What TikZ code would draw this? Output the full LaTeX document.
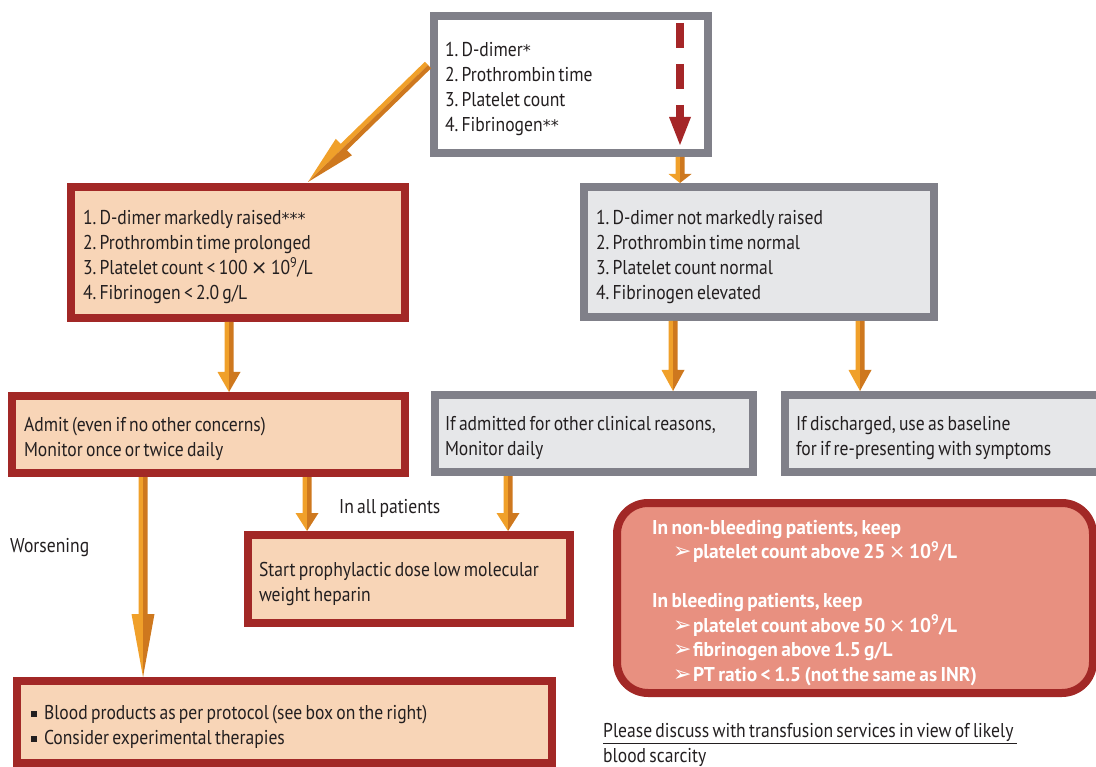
\documentclass[tikz,border=0pt]{standalone}
\usepackage{fontspec}
\setmainfont{PT Sans}[FakeStretch=0.88, WordSpace=0.7, BoldFeatures={FakeStretch=0.97}]
\newfontfamily\symf{DejaVu Sans}
\usetikzlibrary{calc}
\frenchspacing
\definecolor{gborder}{RGB}{128,128,137}
\definecolor{gfill}{RGB}{230,231,233}
\definecolor{rborder}{RGB}{162,40,38}
\definecolor{pfill}{RGB}{248,213,183}
\definecolor{sfill}{RGB}{232,144,128}
\definecolor{olight}{RGB}{240,160,42}
\definecolor{odark}{RGB}{206,120,30}
\definecolor{dred}{RGB}{165,38,40}
\definecolor{txt}{RGB}{35,31,32}

\newcommand\myast[1]{{\symf\mdseries\fontsize{16}{16}\selectfont #1}}
\newcommand\mytms{{\symf\mdseries ×}}
\newcommand\myarr{\hspace*{21pt}\makebox[20pt][l]{\symf\mdseries\fontsize{22}{22}\selectfont ➢}}

% orange two-tone arrow: [head length]{start}{end}
\newcommand\oarr[3][20]{%
  \path let \p1=#2, \p2=#3 in \pgfextra{%
    \pgfmathsetmacro\tmpa{veclen(\x2-\x1,\y2-\y1)}\xdef\arrlen{\tmpa}%
    \pgfmathsetmacro\tmpb{atan2(\y2-\y1,\x2-\x1)}\xdef\arrang{\tmpb}};
  \begin{scope}[shift={#2}, rotate=\arrang, x=1pt, y=1pt]
    \fill[olight] (0,0) -- (0,-4.5) -- (\arrlen-#1,-4.5) -- (\arrlen-#1,-11.5) -- (\arrlen,0) -- cycle;
    \fill[odark] (0,0) -- (0,4.5) -- (\arrlen-#1,4.5) -- (\arrlen-#1,11.5) -- (\arrlen,0) -- cycle;
  \end{scope}}

\tikzset{
  base/.style={draw, line width=8pt, align=flush left, text=txt, anchor=north west,
    inner ysep=0pt, font=\fontsize{20}{25}\selectfont,
    execute at begin node={\rule{0pt}{24pt}}},
  graybox/.style={base, draw=gborder, fill=gfill},
  redbox/.style={base, draw=rborder, fill=pfill},
  plain/.style={text=txt, font=\fontsize{20}{25}\selectfont, inner sep=0pt},
}

\begin{document}
\begin{tikzpicture}[x=1pt, y=-1pt]
\useasboundingbox (0,0) rectangle (1096,767);

% boxes
\node[graybox, fill=white, minimum width=274, minimum height=137, text width=252, inner xsep=11] (tb) at (430,12)
  {1. D-dimer\myast{*}\\2. Prothrombin time\\3. Platelet count\\4. Fibrinogen\myast{**}};
\node[redbox, minimum width=334, minimum height=131, text width=310, inner xsep=12] (l1) at (67,183)
  {1. D-dimer markedly raised\myast{***}\\2. Prothrombin time prolonged\\3. Platelet count < 100 \mytms{} 10\textsuperscript{9}/L\\4. Fibrinogen < 2.0 g/L};
\node[graybox, minimum width=350, minimum height=130, text width=326, inner xsep=12] (r1) at (580,183)
  {1. D-dimer not markedly raised\\2. Prothrombin time normal\\3. Platelet count normal\\4. Fibrinogen elevated};
\node[redbox, minimum width=393, minimum height=77, text width=369, inner xsep=12] (l2) at (8,392)
  {Admit (even if no other concerns)\\Monitor once or twice daily};
\node[graybox, minimum width=318, minimum height=77, text width=298, inner xsep=10] (m2) at (431,391)
  {If admitted for other clinical reasons,\\Monitor daily};
\node[graybox, minimum width=315, minimum height=77, text width=293, inner xsep=11] (r2) at (781,391)
  {If discharged, use as baseline\\for if re-presenting with symptoms};
\node[redbox, minimum width=322, minimum height=88, text width=300, inner xsep=11] (m3) at (244,531)
  {Start prophylactic dose low molecular\\weight heparin};
\node[redbox, minimum width=535, minimum height=82, text width=507, inner xsep=14] (l4) at (13,677)
  {\raisebox{3pt}{\rule{6pt}{6pt}}\hspace{7pt}Blood products as per protocol (see box on the right)\\
   \raisebox{3pt}{\rule{6pt}{6pt}}\hspace{7pt}Consider experimental therapies};
\node[base, draw=rborder, fill=sfill, rounded corners=31pt, text=white, minimum width=476, minimum height=190,
  text width=406, inner xsep=35, font=\fontsize{20}{24.5}\selectfont\bfseries] (rb) at (613,499)
  {In non-bleeding patients, keep\\
   \myarr platelet count above 25 \mytms{} 10\textsuperscript{9}/L\\[24.5pt]
   In bleeding patients, keep\\
   \myarr platelet count above 50 \mytms{} 10\textsuperscript{9}/L\\
   \myarr fibrinogen above 1.5 g/L\\
   \myarr PT ratio < 1.5 (not the same as INR)};

% labels
\node[plain, anchor=west] (lall) at (339,508) {In all patients};
\node[plain, anchor=west] (lwors) at (10,548) {Worsening};
\node[plain, anchor=west, align=left] (note) at (603,745)
  {\underline{Please discuss with transfusion services in view of likely\ }\\blood scarcity};

% red dashed arrow inside top box
\coordinate (dt) at ($(tb.north east)+(-32,11)$);
\coordinate (db) at ($(tb.north east)+(-32,105)$);
\coordinate (dtip) at ($(tb.north east)+(-32,133)$);
\draw[dred, line width=8pt, dash pattern=on 25pt off 16pt] (dt) -- (db);
\fill[dred] ($(db)+(-11,0)$) -- ($(db)+(11,0)$) -- (dtip) -- cycle;

% orange arrows
\coordinate (d1s) at ($(tb.north west)+(-2,53)$);
\coordinate (d1e) at ($(l1.north)+(70,-1)$);
\oarr[50]{(d1s)}{(d1e)}
\coordinate (x0) at ($(tb.south east)+(-32,0)$);
\oarr[9]{(x0)}{(x0 |- r1.north)}
\coordinate (xa) at (229,0);
\oarr[20]{(xa |- l1.south)}{(xa |- l2.north)}
\coordinate (xb) at (673,0);
\oarr[21]{(xb |- r1.south)}{(xb |- m2.north)}
\coordinate (xc) at (860,0);
\oarr[21]{(xc |- r1.south)}{(xc |- r2.north)}
\coordinate (xd) at (143,0);
\oarr[63]{(xd |- l2.south)}{(xd |- l4.north)}
\coordinate (xe) at (307,0);
\oarr[18]{(xe |- l2.south)}{(xe |- m3.north)}
\coordinate (xf) at (508,0);
\oarr[18]{(xf |- m2.south)}{(xf |- m3.north)}
\end{tikzpicture}
\end{document}
